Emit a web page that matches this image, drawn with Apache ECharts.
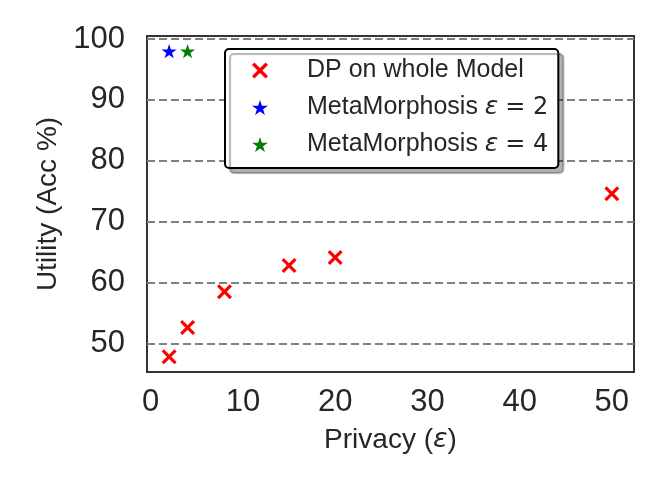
<!DOCTYPE html>
<html>
<head>
<meta charset="utf-8">
<script src="https://cdn.jsdelivr.net/npm/echarts@6/dist/echarts.min.js"></script>
<style>
  html, body { margin: 0; padding: 0; background: #fff; }
  #main { width: 664px; height: 498px; }
</style>
</head>
<body>
<div id="main"></div>
<script>
// data
const dpPrivacy = [2, 4, 8, 15, 20, 50];
const dpUtility = [47.8, 52.6, 58.5, 62.8, 64.1, 74.6];
const meta2Privacy = [2];
const meta2Utility = [98];
const meta4Privacy = [4];
const meta4Utility = [98];
const xTicks = [0, 10, 20, 30, 40, 50];
const yTicks = [50, 60, 70, 80, 90, 100];

const crossPath = 'path://M0,3 L3,0 L10,7 L17,0 L20,3 L13,10 L20,17 L17,20 L10,13 L3,20 L0,17 L7,10 Z';
const starPath = 'path://M10,0 L12.245,6.91 L19.511,6.91 L13.633,11.18 L15.878,18.09 L10,13.82 L4.122,18.09 L6.367,11.18 L0.489,6.91 L7.755,6.91 Z';

function pairs(xs, ys) {
  return xs.map((x, i) => [x, ys[i]]);
}

const font = 'Liberation Sans';
const textColor = '#262626';
const epsStyle = { fontFamily: 'DejaVu Sans', fontStyle: 'italic', color: textColor };

let myChart = echarts.init(document.getElementById('main'));
myChart.setOption({
  animation: false,
  textStyle: { fontFamily: font },
  grid: {
    left: 147, right: 30, top: 36, bottom: 126,
    show: true,
    borderColor: '#333',
    borderWidth: 2,
    backgroundColor: 'transparent'
  },
  legend: {
    orient: 'vertical',
    left: 225,
    top: 49,
    padding: [9, 10, 11, 27],
    itemWidth: 16,
    itemHeight: 16,
    itemGap: 12,
    backgroundColor: '#fff',
    borderColor: '#000',
    borderWidth: 2,
    borderRadius: 4,
    shadowColor: 'rgba(0,0,0,0.3)',
    shadowBlur: 1,
    shadowOffsetX: 5,
    shadowOffsetY: 5,
    formatter: function (name) {
      return name.replace(/ε = (\d)/, '{e|ε} {m|= $1}');
    },
    textStyle: {
      fontFamily: font,
      fontSize: 25,
      color: textColor,
      lineHeight: 25,
      padding: [0, 0, 0, 34],
      rich: {
        e: Object.assign({ fontSize: 25 }, epsStyle),
        m: { fontFamily: 'DejaVu Sans', fontSize: 24, color: textColor }
      }
    },
    data: ['DP on whole Model', 'MetaMorphosis ε = 2', 'MetaMorphosis ε = 4']
  },
  xAxis: {
    type: 'value',
    min: -0.4,
    max: 52.4,
    name: 'Privacy ({e|ε})',
    nameLocation: 'middle',
    nameGap: 54,
    nameTextStyle: {
      fontFamily: font,
      fontSize: 28,
      color: textColor,
      rich: { e: Object.assign({ fontSize: 27 }, epsStyle) }
    },
    axisLine: { show: false },
    axisTick: { show: false, customValues: xTicks },
    axisLabel: {
      customValues: xTicks,
      fontSize: 31,
      color: textColor,
      margin: 15
    },
    splitLine: { show: false }
  },
  yAxis: {
    type: 'value',
    min: 45.3,
    max: 100.5,
    name: 'Utility (Acc %)',
    nameLocation: 'middle',
    nameGap: 80,
    nameTextStyle: { fontFamily: font, fontSize: 28, color: textColor },
    axisLine: { show: false },
    axisTick: { show: false, customValues: yTicks },
    axisLabel: {
      customValues: yTicks,
      fontSize: 31,
      color: textColor,
      margin: 22
    },
    splitLine: {
      show: true,
      lineStyle: { color: '#808080', width: 2, type: [8, 4] }
    }
  },
  series: [
    {
      name: 'DP on whole Model',
      type: 'scatter',
      symbol: crossPath,
      symbolSize: 15,
      symbolKeepAspect: true,
      itemStyle: { color: '#ff0000', opacity: 1 },
      data: pairs(dpPrivacy, dpUtility),
      z: 3
    },
    {
      name: 'MetaMorphosis ε = 2',
      type: 'scatter',
      symbol: starPath,
      symbolSize: 15,
      symbolKeepAspect: true,
      itemStyle: { color: '#0000ff', opacity: 1 },
      data: pairs(meta2Privacy, meta2Utility),
      z: 3
    },
    {
      name: 'MetaMorphosis ε = 4',
      type: 'scatter',
      symbol: starPath,
      symbolSize: 15,
      symbolKeepAspect: true,
      itemStyle: { color: '#008000', opacity: 1 },
      data: pairs(meta4Privacy, meta4Utility),
      z: 3
    }
  ]
});
</script>
</body>
</html>
